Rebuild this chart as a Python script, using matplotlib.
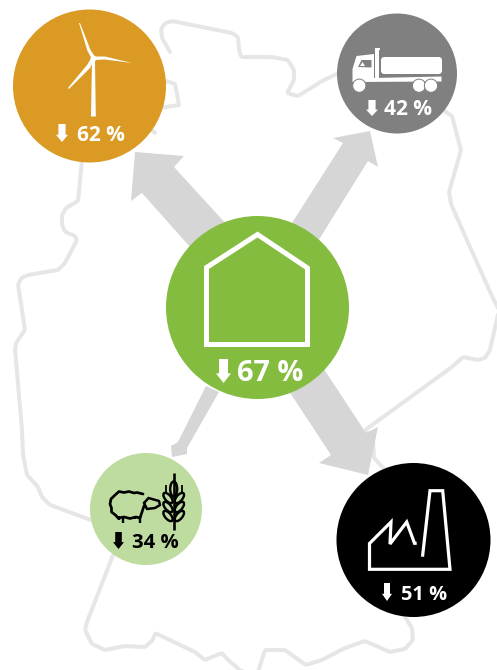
import matplotlib
matplotlib.use("Agg")
import math
import matplotlib.pyplot as plt
from matplotlib.patches import Circle, Polygon, Ellipse, FancyBboxPatch

# reduction per sector, percent
sectors = ["wind", "transport", "buildings", "farming", "industry"]
reductions = [62, 42, 67, 34, 51]

PX = 0.72  # one pixel in points at dpi 100
GREY = "#d6d6d6"
MAP = "#e6e6e6"

fig = plt.figure(figsize=(4.97, 6.70), dpi=100)
ax = fig.add_axes([0, 0, 1, 1])
ax.set_xlim(0, 497)
ax.set_ylim(670, 0)
ax.axis("off")


def smooth(pts, r=4, n=3):
    # round the corners only, straight runs stay where they are
    dense = [pts[0]]
    for a, b in zip(pts[:-1], pts[1:]):
        d = math.hypot(b[0] - a[0], b[1] - a[1])
        if d > 2 * r:
            t = r / d
            dense.append((a[0] + (b[0] - a[0]) * t, a[1] + (b[1] - a[1]) * t))
            dense.append((b[0] - (b[0] - a[0]) * t, b[1] - (b[1] - a[1]) * t))
        dense.append(b)
    pts = dense
    for _ in range(n):
        out = [pts[0]]
        for a, b in zip(pts[:-1], pts[1:]):
            out.append((a[0] * 0.75 + b[0] * 0.25, a[1] * 0.75 + b[1] * 0.25))
            out.append((a[0] * 0.25 + b[0] * 0.75, a[1] * 0.25 + b[1] * 0.75))
        out.append(pts[-1])
        pts = out
    return pts


def line(pts, color, w, z=1, cap="round", join="round"):
    ax.plot([p[0] for p in pts], [p[1] for p in pts], color=color, lw=w * PX, zorder=z,
            solid_capstyle=cap, solid_joinstyle=join)


# ---------------------------
# MAP OUTLINE
# ---------------------------
outline = [
    (170, 52), (162, 38), (161, 29), (165, 23), (172, 21), (232, 33), (238, 37), (239, 50), (241, 57),
    (250, 57), (272, 57), (288, 60), (294, 70), (294, 80), (287, 93), (298, 96), (322, 81), (345, 70),
    (400, 100), (440, 108), (452, 116), (461, 150), (449, 192), (451, 204), (458, 220), (490, 292),
    (499, 310), (490, 350), (485, 358), (478, 360), (463, 357), (452, 367), (365, 430), (373, 440),
    (374, 458), (390, 475), (405, 617), (412, 628), (413, 640), (405, 649), (390, 652), (365, 641),
    (345, 648), (322, 660), (306, 665), (285, 650), (265, 650), (258, 672),
]
outline2 = [
    (258, 672), (241, 671), (228, 660), (222, 653), (205, 660), (195, 652), (155, 633), (153, 640),
    (145, 647), (125, 646), (105, 650), (92, 644), (85, 630), (87, 622), (113, 555), (146, 530),
    (91, 520), (50, 505), (42, 497), (38, 487), (27, 475), (23, 455), (22, 430), (15, 350), (16, 343),
    (25, 330), (18, 285), (21, 278), (28, 275), (58, 270), (65, 263), (77, 240), (75, 236), (65, 232),
    (62, 225), (62, 215), (66, 208), (78, 201), (83, 150),
]
bump = [(160, 79), (175, 84), (179, 105), (160, 108)]
line(smooth(outline), MAP, 4)
line(smooth(outline2), MAP, 4)
line(smooth(bump, 2), MAP, 4)
line([(148, 126), (155, 133)], MAP, 4)

# ---------------------------
# ARROWS
# ---------------------------
arrows = [
    [(135, 152), (184, 156), (174, 167), (250, 250), (215, 275), (142, 193), (131, 201)],
    [(370, 131), (378, 167), (368, 161), (300, 270), (262, 270), (343, 143), (333, 138)],
    [(368, 475), (319, 463), (331, 455), (285, 385), (318, 360), (366, 433), (378, 427)],
    [(172, 457), (171, 446), (178, 442), (206, 386), (219, 392), (187, 448), (187, 454)],
]
for a in arrows:
    ax.add_patch(Polygon(a, closed=True, fc=GREY, ec="none", zorder=2))

# ---------------------------
# CIRCLES
# ---------------------------
centers = [(89.5, 86), (397, 73.5), (257.5, 307.5), (146, 509), (413.5, 540)]
radii = [76.5, 60, 91.5, 56, 77]
fills = ["#db9a23", "#808080", "#84bc3f", "#bedca0", "#000000"]
inks = ["white", "white", "white", "black", "white"]
for c, r, f in zip(centers, radii, fills):
    ax.add_patch(Circle(c, r, fc=f, ec="none", zorder=3))

# ---------------------------
# PERCENT LABELS + DOWN ARROWS
# ---------------------------
text_pos = [(101, 133), (408, 107), (270.5, 370), (155, 540), (424.5, 593)]
sizes = [15, 15, 20.8, 14.6, 14.4]
arrow_box = [(56, 68, 124, 142), (366, 378, 100, 116), (216, 231, 359, 383), (113, 124, 532, 549), (382, 392, 583, 601)]
for val, p, s, box, ink in zip(reductions, text_pos, sizes, arrow_box, inks):
    ax.text(p[0], p[1], f"{val} %", family="Open Sans", weight="bold", fontsize=s, color=ink,
            ha="center", va="center_baseline", zorder=6)
    x0, x1, y0, y1 = box
    xm = (x0 + x1) / 2
    w = (x1 - x0) * 0.3
    neck = y0 + (y1 - y0) * 0.6
    ax.add_patch(Polygon([(xm - w, y0), (xm + w, y0), (xm + w, neck), (x1, neck), (xm, y1), (x0, neck), (xm - w, neck)],
                         closed=True, fc=ink, ec="none", zorder=6))

# ---------------------------
# ICONS
# ---------------------------
# wind turbine
turbine = [
    [(92, 60), (95, 60), (95.8, 116.5), (91, 116.5)],
    [(79, 23), (80, 23), (90.5, 50), (95, 57), (92, 59), (87.5, 51)],
    [(132, 63), (105, 59.5), (95, 60), (94, 56.5), (105, 56.5)],
    [(68, 88), (87, 65), (92, 57), (95, 59), (90, 68), (69, 89)],
]
for t in turbine:
    ax.add_patch(Polygon(t, closed=True, fc="white", ec="none", zorder=5))
ax.add_patch(Circle((93.5, 58.5), 3, fc="white", ec="none", zorder=5))

# truck
ax.add_patch(Polygon([(352.5, 80), (352.5, 69), (356.5, 56), (374, 54), (374, 78), (441.5, 76.5), (441.5, 81.5), (352.5, 82)],
                     closed=True, fc="white", ec="none", zorder=5))
ax.add_patch(Polygon([(374.5, 48), (380, 48), (380, 49.5), (378.5, 49.5), (378.5, 78), (374.5, 78)],
                     closed=True, fc="white", ec="none", zorder=5))
ax.add_patch(FancyBboxPatch((384, 60), 55, 11, boxstyle="round,pad=0,rounding_size=0.1", fc="white", ec="white",
                            lw=6 * PX, joinstyle="round", zorder=5))
ax.add_patch(Polygon([(358, 67), (361.5, 60), (371.5, 60), (371.5, 67.5)], closed=True, fc="#808080", ec="none", zorder=5.2))
ax.add_patch(Polygon([(360, 66), (362.5, 62), (365, 66)], closed=True, fc="white", ec="none", zorder=5.3))
for wx in [359.3, 419, 431]:
    ax.add_patch(Circle((wx, 85.7), 6.6, fc="white", ec="#808080", lw=1 * PX, zorder=5.4))

# sheep
sheep = [
    (143, 494), (137, 492.5), (134, 493), (129, 491.5), (124, 492.5), (119, 491.5), (114, 496), (111, 499),
    (110, 504), (111.5, 508), (111.5, 512), (116, 515.5), (118, 518), (124, 517), (130, 518.5), (136, 517),
    (140, 518), (142, 512), (144, 506),
]
line(sheep, "black", 2.7, z=5)
head = [(144, 503), (148.5, 498), (159, 501), (160, 505), (155, 508), (147, 509), (144, 503)]
line(head, "black", 2.5, z=5)
for lx, ly in [(118.5, 520), (122.5, 523), (135, 519), (140, 523)]:
    line([(lx, 516), (lx, ly)], "black", 2.4, z=5, cap="butt")

# wheat
line([(173.7, 473), (173.7, 530)], "black", 2.6, z=5, cap="butt")
ax.add_patch(Ellipse((173.7, 489), 7, 15, fc="none", ec="black", lw=2.4 * PX, zorder=5))
for gy in [498, 507, 516]:
    ax.add_patch(Ellipse((168, gy), 6, 12.5, angle=-40, fc="none", ec="black", lw=2.4 * PX, zorder=5))
    ax.add_patch(Ellipse((179.4, gy), 6, 12.5, angle=40, fc="none", ec="black", lw=2.4 * PX, zorder=5))
line([(166, 485), (166, 492)], "black", 1.8, z=5, cap="butt")
line([(182, 485), (182, 492)], "black", 1.8, z=5, cap="butt")

# factory
factory = [
    (416.7, 543.3), (414.5, 543.3), (406.7, 522), (390, 544), (391, 522), (369.5, 543.5), (369.5, 569.3),
    (450, 569.3), (442.7, 490.7), (430, 490.7), (422.5, 556.7),
]
line(factory, "white", 3.2, z=5, cap="butt", join="miter")

# house
house = [(206.5, 345), (206.5, 267.5), (257.5, 234.5), (307.5, 268), (307.5, 344.5), (204, 344.5)]
line(house, "white", 5, z=5, cap="butt", join="miter")

fig.savefig("out.png", dpi=100)
